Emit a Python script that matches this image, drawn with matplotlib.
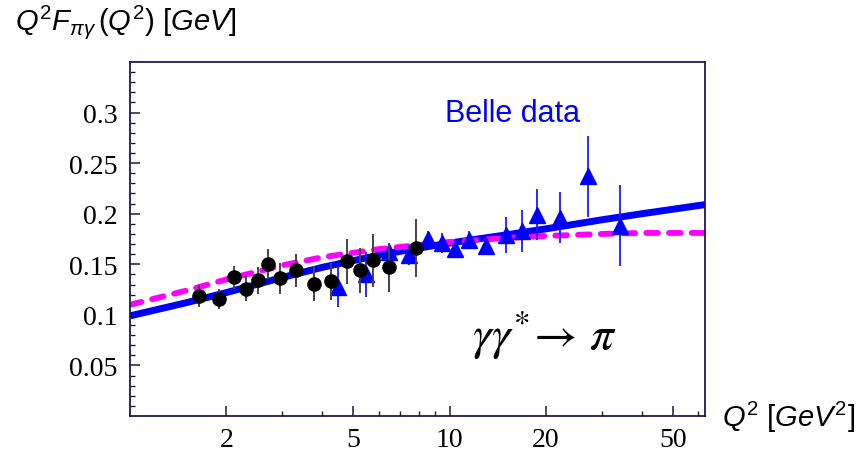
import matplotlib
matplotlib.use("Agg")
import matplotlib.pyplot as plt
from matplotlib.ticker import FixedLocator, NullFormatter

plt.rcParams['mathtext.fontset'] = 'custom'
plt.rcParams['mathtext.rm'] = 'Liberation Sans'
plt.rcParams['mathtext.it'] = 'Liberation Sans:italic'

# CLEO points (black circles)
q2_cleo = [1.64, 1.90, 2.11, 2.30, 2.51, 2.70, 2.94, 3.30, 3.76, 4.25, 4.76, 5.23, 5.75, 6.45, 7.83]
f_cleo = [0.119, 0.116, 0.137, 0.126, 0.134, 0.150, 0.136, 0.144, 0.131, 0.133, 0.153, 0.144, 0.154, 0.147, 0.166]
err_cleo = [0.011, 0.010, 0.011, 0.012, 0.013, 0.015, 0.015, 0.016, 0.017, 0.018, 0.022, 0.022, 0.026, 0.024, 0.029]

# Belle points (blue triangles)
q2_belle = [4.47, 5.46, 6.45, 7.44, 8.53, 9.44, 10.4, 11.5, 13.0, 15.0, 16.9, 18.8, 22.2, 27.2, 34.2]
f_belle = [0.128, 0.140, 0.162, 0.159, 0.175, 0.171, 0.165, 0.174, 0.168, 0.179, 0.183, 0.199, 0.196, 0.237, 0.188]
err_belle = [0.020, 0.022, 0.008, 0.010, 0.008, 0.010, 0.009, 0.009, 0.009, 0.018, 0.021, 0.025, 0.025, 0.040, 0.040]

# theory curves
q2_curve = [1.0, 1.5, 2.0, 3.0, 4.0, 6.0, 8.0, 10.0, 15.0, 20.0, 30.0, 40.0, 63.0]
f_solid = [0.099, 0.112, 0.122, 0.137, 0.147, 0.159, 0.166, 0.171, 0.179, 0.185, 0.194, 0.200, 0.209]
f_dashed = [0.110, 0.124, 0.135, 0.149, 0.157, 0.165, 0.169, 0.172, 0.176, 0.178, 0.180, 0.181, 0.181]

x_major = [2, 5, 10, 20, 50]
x_minor = [3, 4, 6, 7, 8, 9, 30, 40, 60]
y_major = [0.05, 0.1, 0.15, 0.2, 0.25, 0.3]
y_labels = ["0.05", "0.1", "0.15", "0.2", "0.25", "0.3"]

fig = plt.figure(figsize=(8.68, 4.64), dpi=100)
ax = fig.add_axes([0.1498, 0.1013, 0.6624, 0.7629])

ax.plot(q2_curve, f_solid, color='#0000ff', lw=5, solid_capstyle='butt', zorder=2)
ax.plot(q2_curve, f_dashed, color='#ff00ff', lw=4.2, dashes=(2.0, 1.9), dash_capstyle='round', zorder=2)

ax.errorbar(q2_cleo, f_cleo, yerr=err_cleo, fmt='o', color='black', ms=9.5,
            ecolor='#444444', elinewidth=1.4, capsize=0, zorder=4)
ax.errorbar(q2_belle, f_belle, yerr=err_belle, fmt='^', color='#0000ff', ms=11,
            ecolor='#1a1aff', elinewidth=1.3, capsize=0, zorder=3)

ax.set_xscale('log')
ax.set_xlim(1.0, 63)
ax.set_ylim(0, 0.35)

ax.xaxis.set_major_locator(FixedLocator(x_major))
ax.xaxis.set_minor_locator(FixedLocator(x_minor))
ax.xaxis.set_minor_formatter(NullFormatter())
ax.set_xticklabels([str(v) for v in x_major])
ax.set_yticks(y_major)
ax.set_yticklabels(y_labels)
ax.yaxis.set_minor_locator(FixedLocator([i / 100 for i in range(1, 35)]))

for lab in ax.get_xticklabels() + ax.get_yticklabels():
    lab.set_family('Liberation Serif')
    lab.set_fontsize(20)

ax.tick_params(which='both', direction='in', top=False, right=False, colors='#1a1a40', labelcolor='black')
ax.tick_params(which='major', length=7, width=1.1)
ax.tick_params(which='minor', length=3.5, width=1.0)
ax.tick_params(axis='x', pad=8)
ax.tick_params(axis='y', pad=9)
for sp in ax.spines.values():
    sp.set_color('#1a1a50')
    sp.set_linewidth(1.3)

ax.text(15.7, 0.30, "Belle data", color='#0000ff', fontsize=22,
        family='Liberation Sans', ha='center', va='center')
ax.text(19.8, 0.081, r'$\gamma\gamma^{*}\!\rightarrow\,\pi$', fontsize=34,
        math_fontfamily='stix', ha='center', va='center')

fig.text(0.017, 0.953, r'$Q^2F_{\pi\gamma}\,(Q^2)\ [GeV]$', fontsize=21,
         ha='left', va='center')
fig.text(0.832, 0.101, r'$Q^2\ [GeV^2]$', fontsize=21, ha='left', va='center')

fig.savefig("out.png", dpi=100)
